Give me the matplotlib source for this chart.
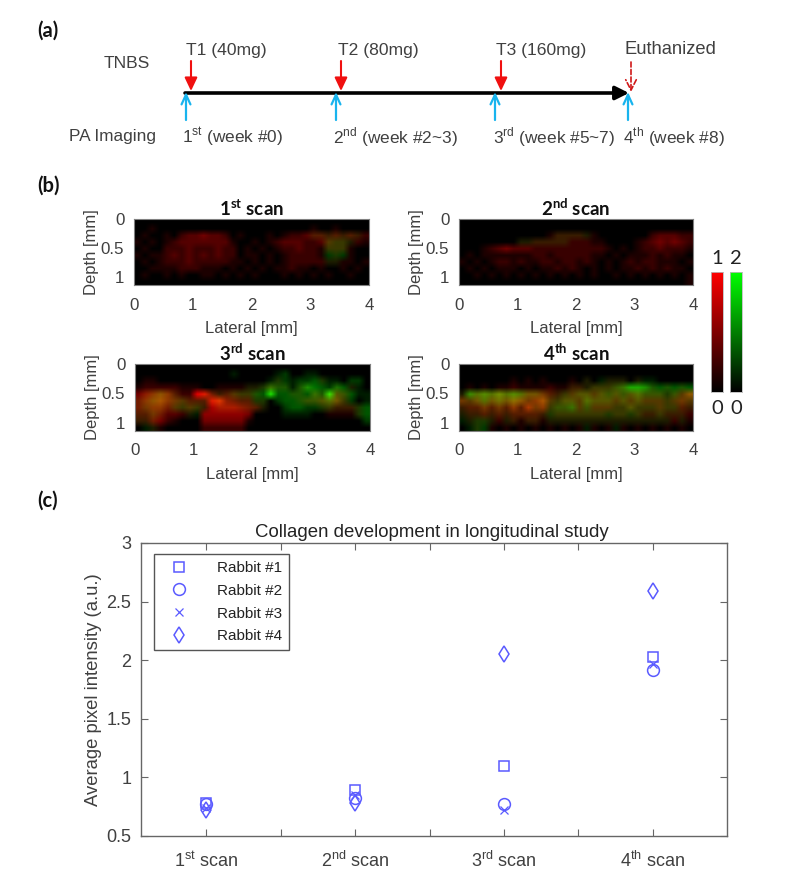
import numpy as np
import matplotlib
matplotlib.use("Agg")
import matplotlib.pyplot as plt
from matplotlib.colors import LinearSegmentedColormap

plt.rcParams['font.family'] = 'Liberation Sans'
plt.rcParams['mathtext.fontset'] = 'custom'
plt.rcParams['mathtext.rm'] = 'Liberation Sans'
plt.rcParams['mathtext.bf'] = 'Lato:bold'

W, H = 792, 881
GREY = '#404040'
BLUE = '#5a5aff'

# (a) timeline
tnbs_x = [191, 341, 501]
tnbs_labels = ['T1 (40mg)', 'T2 (80mg)', 'T3 (160mg)']
tnbs_label_x = [186, 338, 496]
imaging_x = [186, 336, 495, 628]
imaging_labels = ['1$^{\\mathrm{st}}$ (week #0)', '2$^{\\mathrm{nd}}$ (week #2~3)',
                  '3$^{\\mathrm{rd}}$ (week #5~7)', '4$^{\\mathrm{th}}$ (week #8)']
imaging_label_x = [182, 333, 493, 623]

# (b) scans, digit = intensity in tenths, 10 rows by 32 columns
scan_titles = ['$\\mathbf{1^{st}}$ scan', '$\\mathbf{2^{nd}}$ scan',
               '$\\mathbf{3^{rd}}$ scan', '$\\mathbf{4^{th}}$ scan']
red_1 = ["00000000000000000000000000000000",
         "00100000000000000000000010010000",
         "01001023343320100010122333232322",
         "10101233333331001012333223322121",
         "01002223222322010101223221222100",
         "10112323232322011010122221010100",
         "01012223222221101010122222111101",
         "00111122211101010101121101001010",
         "01001010011010101000101010100100",
         "00000000000000000000000000000000"]
green_1 = ["00000000000000000000000000000000",
           "00000000000000000000000000000000",
           "00000000000000000000000011111110",
           "00000000000000000000000000222100",
           "00000000000000000000000000222000",
           "00000000000000000000000000222000",
           "00000000000000000000000000110000",
           "00000000000000000000000000000000",
           "00000000000000000000000000000000",
           "00000000000000000000000000000000"]
red_2 = ["00000000000000000000000000000000",
         "00000000000000000000000000000000",
         "00000000000012222110000000233322",
         "00000000112222222211000012343432",
         "00012343332222222222101012232221",
         "01011111112212222211010111212110",
         "10101221211221221210101212211101",
         "01010111010112121010101121212110",
         "00101010101010101010010101010101",
         "00000000000000000000000000000001"]
green_2 = ["00000000000000000000000000000000",
           "00000000000000000000000000000000",
           "00000000000001111100000000000000",
           "00000000111111100000000000000000",
           "00000000000000000000000000000000",
           "00000000000000000000000000000000",
           "00000000000000000000000000000000",
           "00000000000000000000000000000000",
           "00000000000000000000000000000000",
           "00000000000000000000000000000000"]
red_3 = ["00000000000000000000000000000000",
         "00000000000000000000000000000000",
         "01100000000000000001000001000000",
         "12222211100111111121101100010100",
         "45555322884233221010011021232000",
         "45565433338854331100001223342000",
         "44554323226666543100000001222210",
         "33443321055555540000000000111110",
         "22442100044444410000000000000000",
         "00110000022222200000000000000000"]
green_3 = ["00000000000000000000000000000000",
           "00000000000001000001200110000000",
           "00000000000000000012212232110220",
           "00000000000000011243313543243110",
           "01232100011112223383333343833311",
           "12332221111211112202333333432201",
           "12221222210111111100233222211123",
           "11210001100000000000111100000023",
           "11100000000000000000000000000002",
           "01100000000000000000000000000000"]
red_4 = ["00000000000000000000000000000000",
         "00000000000000000000000000000000",
         "00000001010100010100111010000000",
         "01010112111121122122222111101010",
         "12333433344432233333232332221235",
         "43434445545632333333333333332343",
         "23343435364522223233322322232232",
         "12232323333212222222122122222222",
         "01111212122111111111111111111211",
         "00101010101010101010101010101010"]
green_4 = ["00000000000000000000000000000000",
           "00000000000000000000000000000000",
           "00000000000000000101111011100000",
           "00000000000000011122234665333333",
           "15454545433211223323333343332323",
           "22343434322322332433323232222222",
           "11121212122223342322222322222211",
           "11111111111122222222222221121110",
           "11221011011011111111111111111010",
           "01220000000000000100010000000000"]
scan_red = [red_1, red_2, red_3, red_4]
scan_green = [green_1, green_2, green_3, green_4]
depth_ticks = [0, 0.5, 1]
depth_labels = ['0', '0.5', '1']
lateral_ticks = [0, 1, 2, 3, 4]

# (c) collagen
scan_labels = ['1$^{\\mathrm{st}}$ scan', '2$^{\\mathrm{nd}}$ scan',
               '3$^{\\mathrm{rd}}$ scan', '4$^{\\mathrm{th}}$ scan']
scan_pos = [1, 2, 3, 4]
rabbit_1 = [0.78, 0.89, 1.10, 2.03]
rabbit_2 = [0.77, 0.82, 0.77, 1.92]
rabbit_3 = [0.74, 0.85, 0.72, 1.97]
rabbit_4 = [0.72, 0.78, 2.05, 2.59]


def box(left, top, right, bottom):
    # pixel box of the reference to figure fractions
    return [left / W, 1 - bottom / H, (right - left) / W, (bottom - top) / H]


fig = plt.figure(figsize=(W / 100, H / 100), dpi=100)

# overlay in pixel coordinates for the timeline and loose labels
ov = fig.add_axes([0, 0, 1, 1])
ov.set_xlim(0, W)
ov.set_ylim(H, 0)
ov.axis('off')

for label, y in zip(['(a)', '(b)', '(c)'], [31, 186, 501]):
    ov.text(37, y, label, family='Lato', weight='bold', fontsize=14.5, va='center', color='#111111')

ov.annotate('', xy=(629, 93), xytext=(185, 93),
            arrowprops=dict(arrowstyle='-|>,head_width=0.4,head_length=0.8', color='black', lw=2.6,
                            shrinkA=0, shrinkB=0))
for x in tnbs_x:
    ov.annotate('', xy=(x, 91), xytext=(x, 61),
                arrowprops=dict(arrowstyle='-|>,head_width=0.38,head_length=0.8', color='#f01010', lw=1.5,
                                shrinkA=0, shrinkB=0))
ov.annotate('', xy=(631, 92), xytext=(631, 62),
            arrowprops=dict(arrowstyle='->,head_width=0.38,head_length=0.75', color='#d01818', lw=1.2,
                            ls=(0, (3, 1.5)), shrinkA=0, shrinkB=0))
for x in imaging_x:
    ov.annotate('', xy=(x, 92), xytext=(x, 120),
                arrowprops=dict(arrowstyle='->,head_width=0.32,head_length=0.7', color='#18b4ee', lw=1.6,
                                shrinkA=0, shrinkB=0))
for x, label in zip(tnbs_label_x, tnbs_labels):
    ov.text(x, 51, label, fontsize=12.6, va='center', color=GREY)
ov.text(625, 49, 'Euthanized', fontsize=13.2, va='center', color=GREY)
ov.text(104, 63, 'TNBS', fontsize=12.6, va='center', color=GREY)
ov.text(69, 136, 'PA Imaging', fontsize=12.4, va='center', color=GREY)
for x, label in zip(imaging_label_x, imaging_labels):
    ov.text(x, 137, label, fontsize=12.4, va='center', color=GREY)

# (b) scan panels
boxes = [(134, 219, 369, 285), (459, 219, 693, 285), (135, 364, 370, 431), (459, 364, 693, 431)]
for i in range(4):
    ax = fig.add_axes(box(*boxes[i]))
    red = np.array([[int(c) for c in row] for row in scan_red[i]]) / 9
    green = np.array([[int(c) for c in row] for row in scan_green[i]]) / 9
    rgb = np.dstack([red, green, np.zeros_like(red)])
    ax.imshow(rgb, extent=[0, 4, 1.14, 0], aspect='auto', interpolation='bilinear')
    ax.set_xticks(lateral_ticks)
    ax.set_yticks(depth_ticks)
    ax.set_yticklabels(depth_labels)
    ax.tick_params(length=0, labelsize=12.2, labelcolor=GREY)
    ax.tick_params(axis='x', pad=9)
    ax.tick_params(axis='y', pad=7)
    ax.set_xlabel('Lateral [mm]', fontsize=12, color=GREY, labelpad=6)
    ax.set_ylabel('Depth [mm]', fontsize=12, color=GREY, labelpad=1)
    ax.set_title(scan_titles[i], family='Lato', weight='bold', fontsize=13.5, color='#111111', pad=2)
    for s in ax.spines.values():
        s.set_color('#808080')
        s.set_linewidth(0.8)

# colour scales
ramp = np.linspace(1, 0, 256).reshape(-1, 1)
for (l, r), col in zip([(711, 723), (730, 742)], ['#ff0000', '#00ff00']):
    cax = fig.add_axes(box(l, 272, r, 392))
    cax.imshow(ramp, aspect='auto', cmap=LinearSegmentedColormap.from_list('c', ['black', col]))
    cax.set_xticks([])
    cax.set_yticks([])
    for s in cax.spines.values():
        s.set_color('#bbbbbb')
        s.set_linewidth(0.6)
for x, top_label in zip([717, 736], ['1', '2']):
    ov.text(x, 259, top_label, family='Lato', fontsize=14.5, ha='center', va='center', color='#222222')
    ov.text(x, 408, '0', family='Lato', fontsize=14.5, ha='center', va='center', color='#222222')

# (c) longitudinal plot
ax = fig.add_axes(box(141, 543, 727, 836))
ax.plot(scan_pos, rabbit_1, 's', mfc='none', mec=BLUE, ms=7, mew=1.1, label='Rabbit #1')
ax.plot(scan_pos, rabbit_2, 'o', mfc='none', mec=BLUE, ms=8.5, mew=1.1, label='Rabbit #2')
ax.plot(scan_pos, rabbit_3, 'x', mfc='none', mec=BLUE, ms=5.5, mew=0.9, label='Rabbit #3')
ax.plot(scan_pos, rabbit_4, 'd', mfc='none', mec=BLUE, ms=8, mew=1.1, label='Rabbit #4')
ax.set_xlim(0.56, 4.5)
ax.set_ylim(0.5, 3)
ax.set_xticks([1, 1.5, 2, 2.5, 3, 3.5, 4])
ax.set_xticklabels([scan_labels[0], '', scan_labels[1], '', scan_labels[2], '', scan_labels[3]])
ax.set_yticks([0.5, 1, 1.5, 2, 2.5, 3])
ax.set_yticklabels(['0.5', '1', '1.5', '2', '2.5', '3'])
ax.tick_params(direction='in', length=5, width=0.8, color='#666666', top=True, right=True,
               labelsize=13, labelcolor=GREY)
ax.tick_params(axis='x', pad=11)
ax.tick_params(axis='y', pad=7)
ax.set_ylabel('Average pixel intensity (a.u.)', fontsize=13.3, color=GREY, labelpad=3)
ax.set_title('Collagen development in longitudinal study', fontsize=13.4, color='#222222', pad=4, x=0.497)
for s in ax.spines.values():
    s.set_color('#666666')
    s.set_linewidth(1.0)
leg = ax.legend(loc='upper left', fancybox=False, edgecolor='#555555', framealpha=1, fontsize=11,
                labelspacing=0.58, handletextpad=1.3, handlelength=2.4, borderpad=0.45, borderaxespad=0,
                labelcolor='#222222', bbox_to_anchor=((154 - 141) / 586, 1 - (554 - 543) / 293))
leg.get_frame().set_linewidth(1.0)

fig.savefig('out.png', dpi=100)
